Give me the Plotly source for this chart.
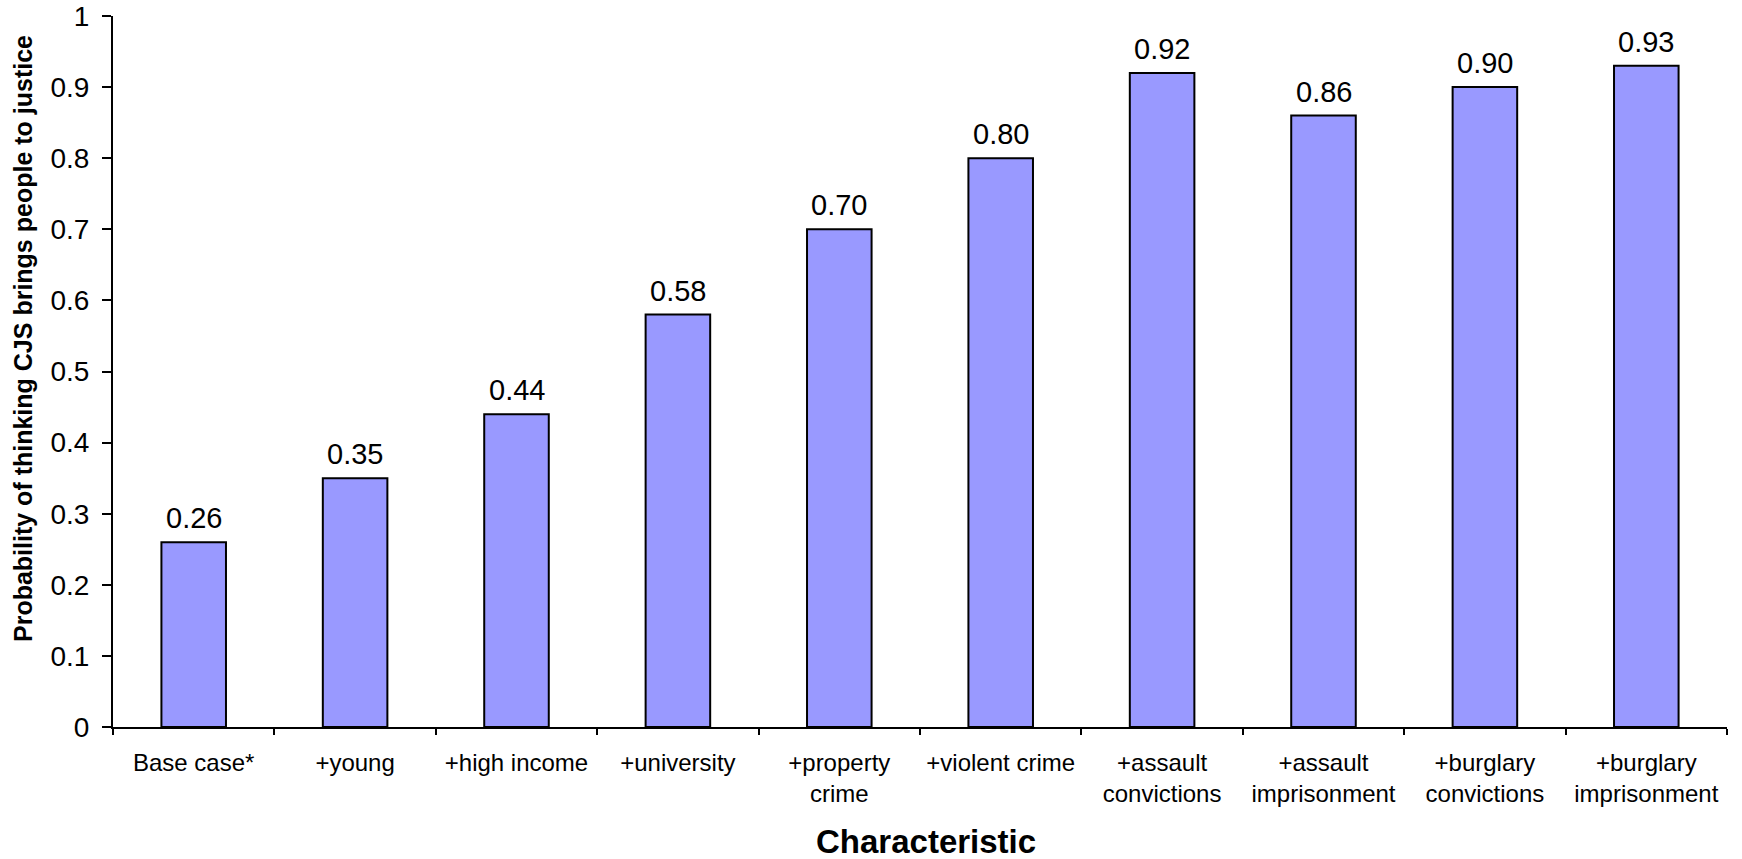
import plotly.graph_objects as go

categories = ["Base case*", "+young", "+high income", "+university", "+property<br>crime",
              "+violent crime", "+assault<br>convictions", "+assault<br>imprisonment",
              "+burglary<br>convictions", "+burglary<br>imprisonment"]
values = [0.26, 0.35, 0.44, 0.58, 0.70, 0.80, 0.92, 0.86, 0.90, 0.93]
value_labels = ["0.26", "0.35", "0.44", "0.58", "0.70", "0.80", "0.92", "0.86", "0.90", "0.93"]
y_title = "Probability of thinking CJS brings people to justice"
x_title = "Characteristic"

FONT = "Liberation Sans, Arial, sans-serif"

fig = go.Figure()
fig.add_trace(go.Bar(
    x=categories, y=values, width=0.4,
    marker=dict(color="#9999FF", line=dict(color="black", width=2)),
    hoverinfo="x+y",
))

for c, v, t in zip(categories, values, value_labels):
    fig.add_annotation(x=c, y=v, xref="x", yref="y", text=t, showarrow=False,
                       yanchor="bottom", yshift=6,
                       font=dict(family=FONT, size=29, color="black"))

fig.add_annotation(x=-0.0558, y=0.547, xref="paper", yref="paper", text="<b>" + y_title + "</b>",
                   textangle=-90, showarrow=False, xanchor="center", yanchor="middle",
                   font=dict(family=FONT, size=25, color="black"))
fig.add_annotation(x=0.504, y=-0.161, xref="paper", yref="paper", text="<b>" + x_title + "</b>",
                   showarrow=False, xanchor="center", yanchor="middle",
                   font=dict(family=FONT, size=33, color="black"))

fig.update_layout(
    width=1742, height=859,
    margin=dict(l=113, r=15, t=16, b=132),
    plot_bgcolor="white", paper_bgcolor="white",
    showlegend=False,
    font=dict(family=FONT, color="black"),
)
fig.update_xaxes(
    type="category", showline=True, linecolor="black", linewidth=2,
    ticks="outside", ticklen=6, tickwidth=2, tickcolor="black", tickson="boundaries",
    tickfont=dict(family=FONT, size=24, color="black"), showgrid=False, zeroline=False,
    automargin=False, ticklabelstandoff=13,
)
fig.update_yaxes(
    range=[0, 1], dtick=0.1, showline=True, linecolor="black", linewidth=2,
    ticks="outside", ticklen=9, tickwidth=2, tickcolor="black",
    tickfont=dict(family=FONT, size=28, color="black"), showgrid=False, zeroline=False,
    ticklabelstandoff=7, automargin=False,
)

fig.write_html("out.html", config={"displayModeBar": False},
               post_script="document.body.style.margin='0';document.body.style.overflow='hidden';")
